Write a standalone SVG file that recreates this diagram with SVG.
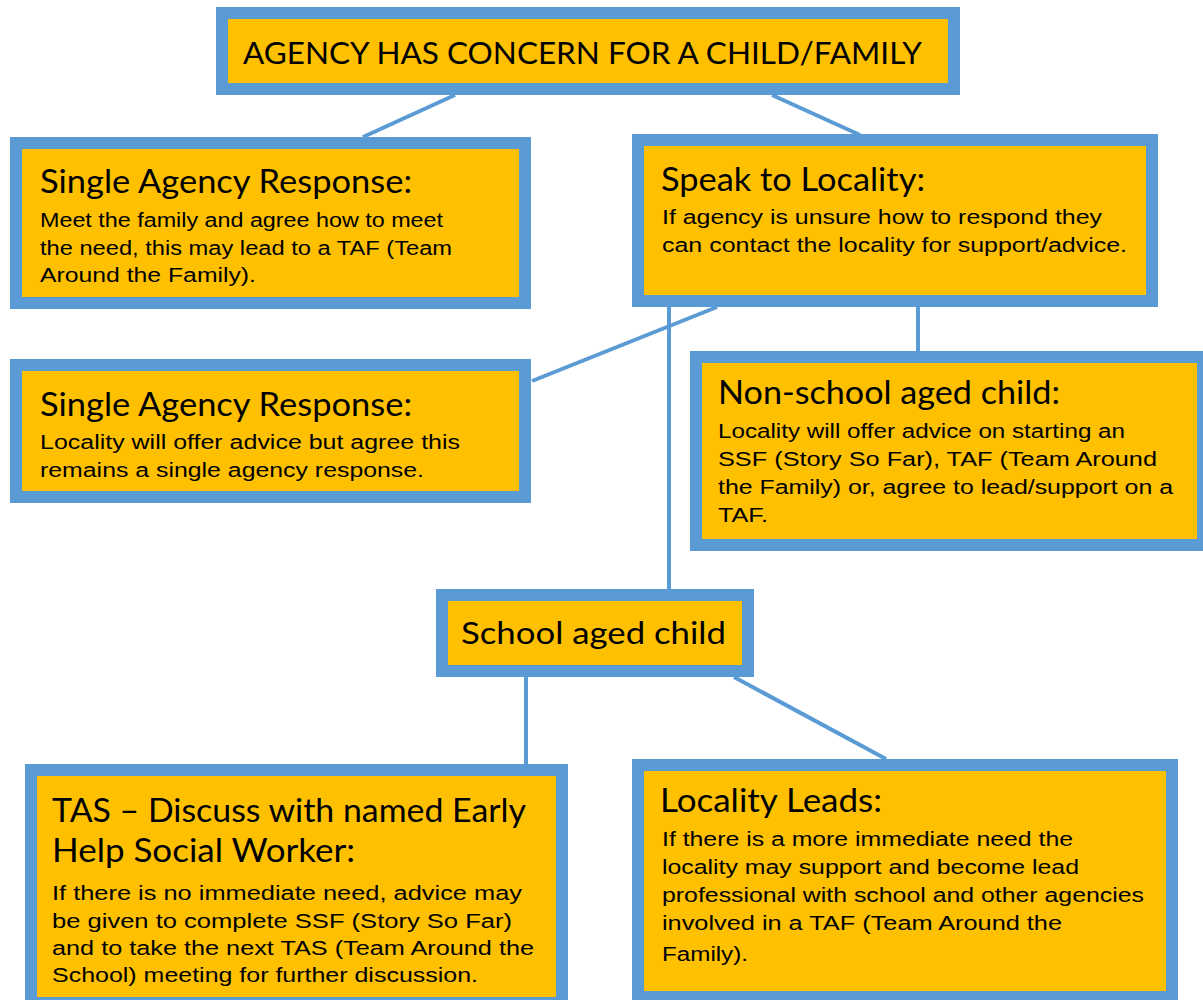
<svg xmlns="http://www.w3.org/2000/svg" width="1203" height="1000" viewBox="0 0 1203 1000">
<style>
.box{fill:#FFC000;stroke:#5B9BD5;stroke-width:12}
.ln{stroke:#5B9BD5;stroke-width:4;fill:none}
.t{font-family:Lato,"Open Sans","Liberation Sans",sans-serif;fill:#000}
.b{font-family:"Liberation Sans",Arial,sans-serif;font-size:20px;fill:#000}
</style>
<rect width="1203" height="1000" fill="#fff"/>
<g id="connectors">
<line class="ln" x1="455" y1="95" x2="363" y2="137"/>
<line class="ln" x1="772" y1="95" x2="860" y2="135"/>
<line class="ln" x1="669" y1="307" x2="669" y2="589"/>
<line class="ln" x1="717" y1="307" x2="532" y2="381"/>
<line class="ln" x1="918" y1="307" x2="918" y2="351"/>
<line class="ln" x1="526" y1="677" x2="526" y2="764"/>
<line class="ln" x1="734" y1="677" x2="886" y2="759"/>
</g>
<g id="agency">
<rect class="box" x="222" y="13" width="732" height="76"/>
<text class="t" x="243" y="64" font-size="31" textLength="679" lengthAdjust="spacingAndGlyphs">AGENCY HAS CONCERN FOR A CHILD/FAMILY</text>
</g>
<g id="single1">
<rect class="box" x="16" y="143" width="509" height="160"/>
<text class="t" x="40" y="193" font-size="33" textLength="372" lengthAdjust="spacingAndGlyphs">Single Agency Response:</text>
<text class="b" x="40" y="227" textLength="403" lengthAdjust="spacingAndGlyphs">Meet the family and agree how to meet</text>
<text class="b" x="40" y="255" textLength="412" lengthAdjust="spacingAndGlyphs">the need, this may lead to a TAF (Team</text>
<text class="b" x="40" y="282" textLength="216" lengthAdjust="spacingAndGlyphs">Around the Family).</text>
</g>
<g id="speak">
<rect class="box" x="638" y="140" width="514" height="161"/>
<text class="t" x="661" y="191" font-size="33" textLength="264" lengthAdjust="spacingAndGlyphs">Speak to Locality:</text>
<text class="b" x="662" y="224" textLength="440" lengthAdjust="spacingAndGlyphs">If agency is unsure how to respond they</text>
<text class="b" x="662" y="252" textLength="465" lengthAdjust="spacingAndGlyphs">can contact the locality for support/advice.</text>
</g>
<g id="single2">
<rect class="box" x="16" y="365" width="509" height="132"/>
<text class="t" x="40" y="416" font-size="33" textLength="372" lengthAdjust="spacingAndGlyphs">Single Agency Response:</text>
<text class="b" x="40" y="449" textLength="420" lengthAdjust="spacingAndGlyphs">Locality will offer advice but agree this</text>
<text class="b" x="40" y="477" textLength="384" lengthAdjust="spacingAndGlyphs">remains a single agency response.</text>
</g>
<g id="nonschool">
<rect class="box" x="696" y="357" width="507" height="188"/>
<text class="t" x="718" y="404" font-size="33" textLength="342" lengthAdjust="spacingAndGlyphs">Non-school aged child:</text>
<text class="b" x="718" y="438" textLength="407" lengthAdjust="spacingAndGlyphs">Locality will offer advice on starting an</text>
<text class="b" x="718" y="466" textLength="439" lengthAdjust="spacingAndGlyphs">SSF (Story So Far), TAF (Team Around</text>
<text class="b" x="718" y="494" textLength="455" lengthAdjust="spacingAndGlyphs">the Family) or, agree to lead/support on a</text>
<text class="b" x="718" y="522" textLength="50" lengthAdjust="spacingAndGlyphs">TAF.</text>
</g>
<g id="school">
<rect class="box" x="442" y="595" width="306" height="76"/>
<text class="t" x="461" y="644" font-size="30" textLength="265" lengthAdjust="spacingAndGlyphs">School aged child</text>
</g>
<g id="tas">
<rect class="box" x="31" y="770" width="531" height="233"/>
<text class="t" x="52" y="822" font-size="33" textLength="474" lengthAdjust="spacingAndGlyphs">TAS – Discuss with named Early</text>
<text class="t" x="52" y="862" font-size="33" textLength="303" lengthAdjust="spacingAndGlyphs">Help Social Worker:</text>
<text class="b" x="52" y="900" textLength="470" lengthAdjust="spacingAndGlyphs">If there is no immediate need, advice may</text>
<text class="b" x="52" y="928" textLength="460" lengthAdjust="spacingAndGlyphs">be given to complete SSF (Story So Far)</text>
<text class="b" x="52" y="955" textLength="482" lengthAdjust="spacingAndGlyphs">and to take the next TAS (Team Around the</text>
<text class="b" x="52" y="982" textLength="426" lengthAdjust="spacingAndGlyphs">School) meeting for further discussion.</text>
</g>
<g id="leads">
<rect class="box" x="638" y="765" width="534" height="232"/>
<text class="t" x="660" y="812" font-size="33" textLength="222" lengthAdjust="spacingAndGlyphs">Locality Leads:</text>
<text class="b" x="662" y="846" textLength="411" lengthAdjust="spacingAndGlyphs">If there is a more immediate need the</text>
<text class="b" x="662" y="874" textLength="417" lengthAdjust="spacingAndGlyphs">locality may support and become lead</text>
<text class="b" x="662" y="902" textLength="482" lengthAdjust="spacingAndGlyphs">professional with school and other agencies</text>
<text class="b" x="662" y="930" textLength="400" lengthAdjust="spacingAndGlyphs">involved in a TAF (Team Around the</text>
<text class="b" x="662" y="961" textLength="86" lengthAdjust="spacingAndGlyphs">Family).</text>
</g>
</svg>
